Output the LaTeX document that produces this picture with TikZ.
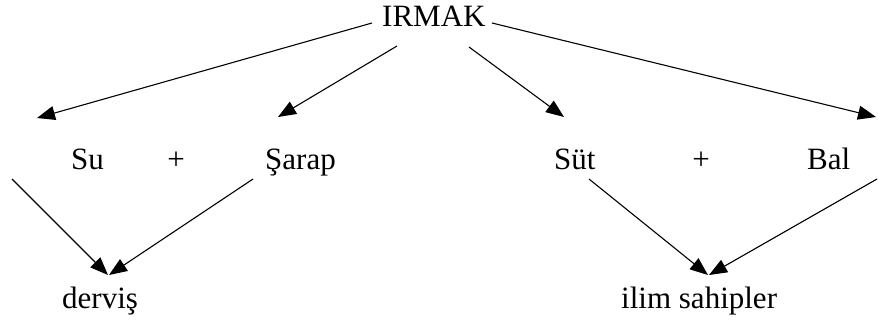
\documentclass[tikz,border=0pt]{standalone}
\usepackage{fontspec}
\setmainfont{Liberation Serif}
\usetikzlibrary{arrows.meta}
\begin{document}
\begin{tikzpicture}[x=1pt,y=-1pt,
  lbl/.style={inner sep=0pt,anchor=base west,font=\fontsize{31}{36}\selectfont},
  op/.style={inner sep=0pt,anchor=base,font=\fontsize{31}{36}\selectfont},
  arr/.style={line width=1.1pt,-{Triangle[length=18pt,width=14pt]}}]
\useasboundingbox (0,0) rectangle (878,325);
% nodes
\node[lbl] (irmak) at (382,26) {IRMAK};
\node[lbl] (su) at (71,169) {Su};
\node[op] (plusA) at (176,169) {+};
\node[lbl] (sarap) at (265,169) {Şarap};
\node[lbl] (sut) at (554,169) {Süt};
\node[op] (plusB) at (701,169) {+};
\node[lbl] (bal) at (807,169) {Bal};
\node[lbl] (dervis) at (62,308) {derviş};
\node[lbl] (ilim) at (621,308) {ilim sahipler};
% connector ends
\coordinate (s1) at (372,23);  \coordinate (t1) at (37,118);
\coordinate (s2) at (397,46);  \coordinate (t2) at (278,117);
\coordinate (s3) at (469,47);  \coordinate (t3) at (564,117);
\coordinate (s4) at (492,23);  \coordinate (t4) at (876,117);
\coordinate (s5) at (12,179);  \coordinate (t5) at (108,275);
\coordinate (s6) at (253,179); \coordinate (t6) at (109,275);
\coordinate (s7) at (589,179); \coordinate (t7) at (708,275);
\coordinate (s8) at (877,179); \coordinate (t8) at (709,275);
% connectors
\draw[arr] (s1) -- (t1);
\draw[arr] (s2) -- (t2);
\draw[arr] (s3) -- (t3);
\draw[arr] (s4) -- (t4);
\draw[arr] (s5) -- (t5);
\draw[arr] (s6) -- (t6);
\draw[arr] (s7) -- (t7);
\draw[arr] (s8) -- (t8);
\end{tikzpicture}
\end{document}
